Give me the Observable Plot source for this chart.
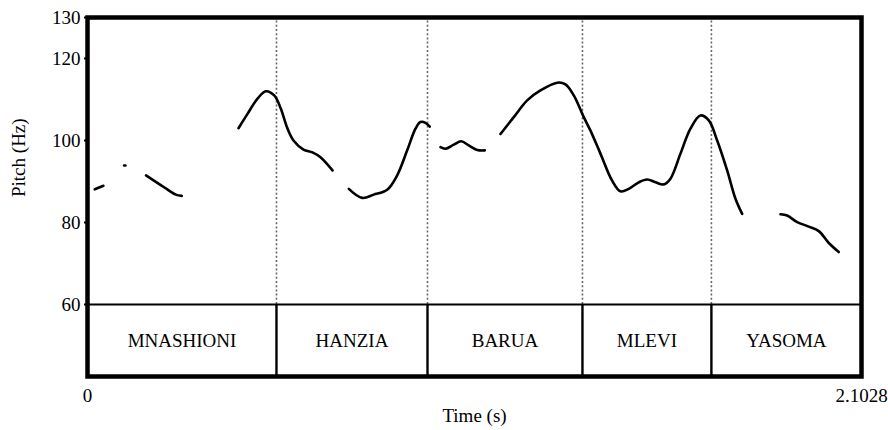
<!DOCTYPE html>
<html>
<head>
<meta charset="utf-8">
<script src="https://cdn.jsdelivr.net/npm/d3@7"></script>
<script src="https://cdn.jsdelivr.net/npm/@observablehq/plot@0.6"></script>
<style>
  html, body { margin: 0; padding: 0; background: #fff; }
  #chart svg { display: block; }
</style>
</head>
<body>
<div id="chart"></div>
<script>
// ---- data ----
const duration = 2.1028;
const yTicks = [60, 80, 100, 120, 130];
const xTicks = [0, 2.1028];
const xTickLabels = ["0", "2.1028"];
const tierFloor = 42.44;   // lower edge of the text tier, in Hz units of the shared y scale
const pitchFloor = 60;
const pitchCeil = 130;

const words = ["MNASHIONI", "HANZIA", "BARUA", "MLEVI", "YASOMA"];
const wordStarts = [0, 0.5134, 0.9237, 1.3447, 1.6950];
const wordEnds   = [0.5134, 0.9237, 1.3447, 1.6950, 2.1028];
const boundaries = [0.5134, 0.9237, 1.3447, 1.6950];

// pitch contour, voiced stretches (segment id, time s, Hz)
const segIds = [
  1,1,
  2,2,
  3,3,3,3,
  4,4,4,4,4,4,4,4,4,4,4,4,
  5,5,5,5,5,5,5,5,5,5,
  6,6,6,6,6,6,6,
  7,7,7,7,7,7,7,7,7,7,7,7,7,7,7,7,7,7,7,7,7,7,7,7,7,7,
  8,8,8,8,8,8,8
];
const times = [
  0.0198, 0.0432,
  0.0995, 0.1030,
  0.159, 0.208, 0.240, 0.256,
  0.4102, 0.4347, 0.4619, 0.4844, 0.5072, 0.5243, 0.5434, 0.5596, 0.5868, 0.6112, 0.6330, 0.6656,
  0.7099, 0.7463, 0.7778, 0.8142, 0.8413, 0.8685, 0.8911, 0.9046, 0.9182, 0.9299,
  0.9590, 0.9726, 0.9951, 1.0152, 1.0359, 1.0587, 1.0793,
  1.1220, 1.1581, 1.1945, 1.2306, 1.2760, 1.2986, 1.3211, 1.3483, 1.3665, 1.3936, 1.4254, 1.4480, 1.4705,
  1.4977, 1.5205, 1.5431, 1.5656, 1.5838, 1.6110, 1.6381, 1.6653, 1.6879, 1.7107, 1.7378, 1.7604, 1.7786,
  1.8826, 1.9008, 1.9280, 1.9595, 1.9867, 2.0139, 2.0410
];
const pitchHz = [
  88.1, 88.95,
  93.9, 93.9,
  91.5, 88.6, 86.8, 86.5,
  103.0, 106.5, 110.2, 112.0, 111.0, 108.0, 102.9, 100.0, 97.8, 97.1, 95.9, 92.7,
  88.2, 86.0, 86.8, 88.0, 91.5, 97.6, 102.9, 104.5, 104.3, 103.4,
  98.4, 98.0, 99.0, 99.8, 98.8, 97.7, 97.6,
  101.6, 105.7, 109.8, 112.2, 114.1, 113.7, 111.0, 105.7, 102.4, 96.8, 90.2, 87.6, 88.2,
  89.8, 90.5, 89.8, 89.3, 90.7, 96.8, 102.9, 106.1, 104.9, 100.0, 92.7, 85.8, 82.1,
  82.0, 81.7, 80.1, 79.0, 77.9, 75.0, 72.8
];

// ---- tables built from the arrays ----
const pitch = times.map((t, i) => ({seg: segIds[i], t, hz: pitchHz[i]}));
const tier = words.map((w, i) => ({word: w, x1: wordStarts[i], x2: wordEnds[i], mid: (wordStarts[i] + wordEnds[i]) / 2}));

const font = "'Liberation Serif', 'Times New Roman', Times, serif";
const fs = 19;

const chart = Plot.plot({
  width: 888,
  height: 430,
  marginLeft: 87,
  marginRight: 27,
  marginTop: 17,
  marginBottom: 54,
  style: {fontFamily: font, fontSize: fs + "px", color: "#000", background: "#fff"},
  x: {domain: [0, duration], label: null},
  y: {domain: [tierFloor, pitchCeil], label: null},
  marks: [
    // dotted interval boundaries in the pitch panel
    Plot.ruleX(boundaries, {y1: pitchFloor, y2: pitchCeil, stroke: "#666", strokeWidth: 1.6, strokeDasharray: "2,2.2"}),
    // pitch contour
    Plot.line(pitch, {x: "t", y: "hz", z: "seg", curve: "catmull-rom", stroke: "#000", strokeWidth: 2.6, strokeLinecap: "round"}),
    // text-tier separator and boundaries
    Plot.ruleY([pitchFloor], {stroke: "#000", strokeWidth: 2.2}),
    Plot.ruleX(boundaries, {y1: tierFloor, y2: pitchFloor, stroke: "#000", strokeWidth: 2.4}),
    Plot.text(tier, {x: "mid", y: (tierFloor + pitchFloor) / 2, text: "word", fontSize: fs, fill: "#000"}),
    // axes
    Plot.axisY(yTicks, {anchor: "left", tickSize: 3, tickPadding: 4, strokeWidth: 2, fontSize: fs, label: null}),
    Plot.axisX(xTicks, {anchor: "bottom", tickSize: 0, tickPadding: 12, fontSize: fs, label: null,
      tickFormat: (d, i) => xTickLabels[xTicks.indexOf(d)]}),
    Plot.text(["Pitch (Hz)"], {frameAnchor: "left", dx: -69, rotate: -90, fontSize: fs, fill: "#000"}),
    Plot.text(["Time (s)"], {frameAnchor: "bottom", dy: 45, fontSize: fs, fill: "#000"}),
    Plot.frame({stroke: "#000", strokeWidth: 4.5})
  ]
});

document.getElementById("chart").appendChild(chart);
</script>
</body>
</html>
